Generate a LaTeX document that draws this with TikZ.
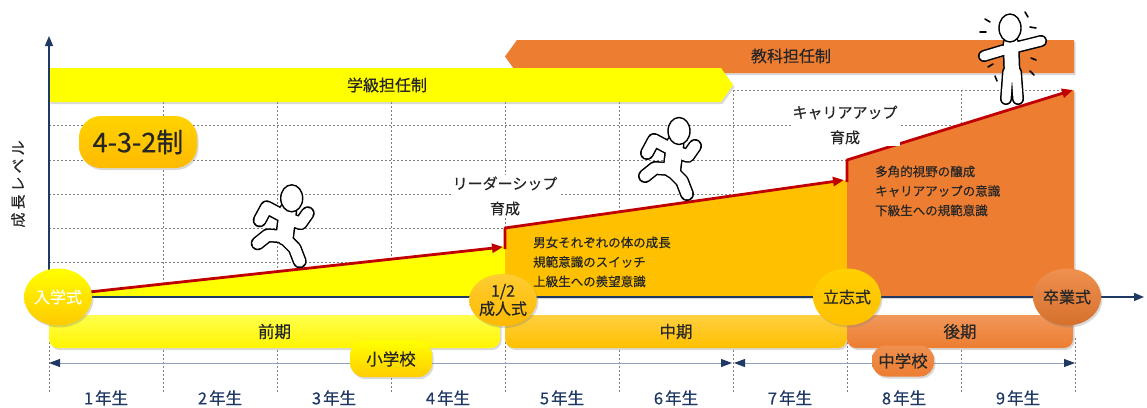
\documentclass[tikz,border=0pt]{standalone}
\usepackage{fontspec}
\setmainfont{Noto Sans CJK JP}[FakeBold=0.4]
\usetikzlibrary{arrows.meta,shadows,shapes.geometric}

\definecolor{bandyellow}{HTML}{FFFF00}
\definecolor{gold}{HTML}{FFC000}
\definecolor{orng}{HTML}{ED7D31}
\definecolor{redline}{HTML}{C00000}
\definecolor{navy}{HTML}{1F3864}
\definecolor{gridgray}{HTML}{7F7F7F}
\definecolor{spangray}{HTML}{8FA3BF}
\definecolor{ink}{HTML}{262626}

\tikzset{
  gridline/.style={draw=gridgray, dash pattern=on 2pt off 2pt, line width=0.6pt},
  softshadow/.style={drop shadow={opacity=0.3, shadow xshift=1.5pt, shadow yshift=-2pt}},
  bandtext/.style={font=\fontsize{16}{18}\selectfont, text=ink},
  phasebar/.style={rounded corners=9pt, minimum height=33pt, inner sep=0pt, softshadow,
    font=\fontsize{16.5}{18}\selectfont, text=ink},
  schooltag/.style={rounded corners=14pt, minimum height=34pt, inner sep=0pt, softshadow,
    font=\fontsize{16.5}{18}\selectfont, text=ink},
  ceremony/.style={ellipse, minimum width=48pt, minimum height=57pt, inner sep=0pt, softshadow,
    font=\fontsize{16}{22}\selectfont, align=center, text=ink},
  yearlabel/.style={font=\fontsize{16.5}{18}\selectfont, text=navy},
  note/.style={font=\fontsize{12.5}{19.5}\selectfont, align=left, anchor=west, inner sep=0pt, text=ink},
  stage/.style={font=\fontsize{15}{25}\selectfont, align=center, fill=white, inner sep=2pt, text=ink},
  redarrow/.style={draw=redline, line width=2.8pt, line join=round, -{Triangle[length=11pt,width=9pt]}},
  spanline/.style={draw=spangray, line width=1pt,
    {Triangle[length=11pt,width=8pt,color=navy]}-{Triangle[length=11pt,width=8pt,color=navy]}},
  axisline/.style={draw=navy, line width=1.2pt, -{Triangle[length=10pt,width=8pt]}},
  runner/.pic={
    \foreach \lw/\tw/\col in {14/19/black, 11/16/white}{
      \draw[line width=\lw pt, \col, line cap=round, line join=round]
        (-10,17) -- (-25,9) -- (-32,22)
        (-2,21) -- (9,25) -- (16,15)
        (-10,38) -- (-24,37) -- (-34,45)
        (-7,40) -- (3,50) -- (8,63);
      \draw[line width=\tw pt, \col, line cap=round] (-4,13) -- (-7,38);
    }
    \draw[fill=white, line width=1.4pt] (0,0) ellipse [x radius=11pt, y radius=13.5pt];
  }
}

\begin{document}
\begin{tikzpicture}[x=1pt, y=-1pt]
\useasboundingbox (0,0) rectangle (1147,407);

% dashed grid of the chart area
\foreach \x in {163,277,391,505,619} \draw[gridline] (\x,102) -- (\x,297);
\foreach \x in {733,961} \draw[gridline] (\x,90) -- (\x,297);
\foreach \y in {125,160,194,228,262} \draw[gridline] (49,\y) -- (1074,\y);
\draw[gridline] (733,90) -- (1074,90);
% dashed year separators below the axis
\foreach \x in {49,163,277,391,505,619,733,847,961,1075} \draw[gridline] (\x,338) -- (\x,392);

% homeroom / subject teacher bands
\fill[orng, softshadow] (517,40) -- (1074,40) -- (1074,73) -- (517,73) -- (505,56.5) -- cycle;
\node[bandtext] (subjband) at (791,56) {教科担任制};
\fill[bandyellow, softshadow] (49,68) -- (721,68) -- (733,85) -- (721,102) -- (49,102) -- cycle;
\node[bandtext] (classband) at (387,85) {学級担任制};

% growth areas
\fill[bandyellow] (58,297) -- (80,293) -- (505,246) -- (505,297) -- cycle;
\fill[gold, softshadow] (505,228) -- (847,180) -- (847,297) -- (505,297) -- cycle;
\fill[orng, softshadow] (847,160) -- (1074,90) -- (1074,297) -- (847,297) -- cycle;

% axes
\draw[axisline] (49,297) -- (49,36);
\draw[axisline] (49,297) -- (1144,297);
\node[rotate=90, font=\fontsize{15}{17}\selectfont, text=ink] (ylabel) at (18,184)
  {成\hspace{3pt}長\hspace{3pt}レ\hspace{3pt}ベ\hspace{3pt}ル};

% growth line
\coordinate (g0) at (80,293);
\coordinate (g1) at (503,247);
\coordinate (g2a) at (505,249);
\coordinate (g2b) at (505,228);
\coordinate (g3) at (844,180);
\coordinate (g4a) at (847,182);
\coordinate (g4b) at (847,160);
\coordinate (g5) at (1073,90);
\draw[redarrow] (g0) -- (g1);
\draw[redarrow] (g2a) -- (g2b) -- (g3);
\draw[redarrow] (g4a) -- (g4b) -- (g5);

% phase bars
\node[phasebar, minimum width=451pt, top color=bandyellow!70!white, bottom color=bandyellow!92!orange] (early) at (274.5,331.5) {前期};
\node[phasebar, minimum width=342pt, top color=gold!75!white, bottom color=gold] (middle) at (676,331.5) {中期};
\node[phasebar, minimum width=226pt, top color=orng!80!white, bottom color=orng] (late) at (960,331.5) {後期};

% ceremonies
\node[ceremony, top color=bandyellow, bottom color=gold!85!bandyellow, text=white] (entry) at (58,297) {入学式};
\node[ceremony, minimum height=52pt, top color=gold!80!white, bottom color=gold!90!orange] (half) at (503,300) {1/2\\[-4pt]成人式};
\node[ceremony, top color=gold!75!yellow, bottom color=gold] (resolve) at (847,297) {立志式};
\node[ceremony, top color=orng!85!white, bottom color=orng!90!black] (grad) at (1067,297) {卒業式};

% school spans
\coordinate (elemL) at (49,363);
\coordinate (elemR) at (732,363);
\coordinate (juniorL) at (734,363);
\coordinate (juniorR) at (1075,363);
\draw[spanline] (elemL) -- (elemR);
\draw[spanline] (juniorL) -- (juniorR);
\node[schooltag, minimum width=82pt, minimum height=36pt, top color=bandyellow, bottom color=gold!80!bandyellow] (elem) at (391,359) {小学校};
\node[schooltag, minimum width=62pt, minimum height=31pt, top color=orng!85!white, bottom color=orng] (junior) at (903,361) {中学校};

% grade labels
\foreach \i in {1,...,9} \node[yearlabel] (year\i) at ({106+114*(\i-1)},398) {\i\kern2pt 年生};

% system badge
\node[rounded corners=22pt, minimum width=118pt, minimum height=52pt, inner sep=0pt,
  top color=gold!70!yellow, bottom color=gold!90!orange, softshadow,
  font=\fontsize{27}{30}\selectfont, text=ink] (system) at (138,142) {4-3-2制};

% stage captions
\node[stage] (leader) at (505,196) {リーダーシップ\\育成};
\node[stage] (career) at (845,125) {キャリアアップ\\育成};
\node[note] (midnote) at (533,262) {男女それぞれの体の成長\\規範意識のスイッチ\\上級生への羨望意識};
\node[note] (latenote) at (875,191) {多角的視野の醸成\\キャリアアップの意識\\下級生への規範意識};

% running figures
\pic at (291.7,198.3) {runner};
\pic at (679,131) {runner};

% standing figure with rays
\foreach \lw/\tw/\col in {12/17/black, 9/14/white}{
  \draw[line width=\lw pt, \col, line cap=round, line join=round]
    (1004,50) -- (984,56)
    (1017,47) -- (1041,41)
    (1008,72) -- (1006,99)
    (1016,72) -- (1018,99);
  \draw[line width=\tw pt, \col, line cap=round] (1011,44) -- (1012,74);
}
\draw[fill=white, line width=1.4pt] (1010,28) ellipse [x radius=11pt, y radius=14pt];
\draw[line width=1.6pt, line cap=round]
  (985,19) -- (990,22) (980,32) -- (986,32) (1025,12) -- (1028,17) (1030,27) -- (1036,28)
  (988,67) -- (993,64) (995,76) -- (997,81) (1031,58) -- (1036,60) (1030,71) -- (1034,75);
\end{tikzpicture}
\end{document}
